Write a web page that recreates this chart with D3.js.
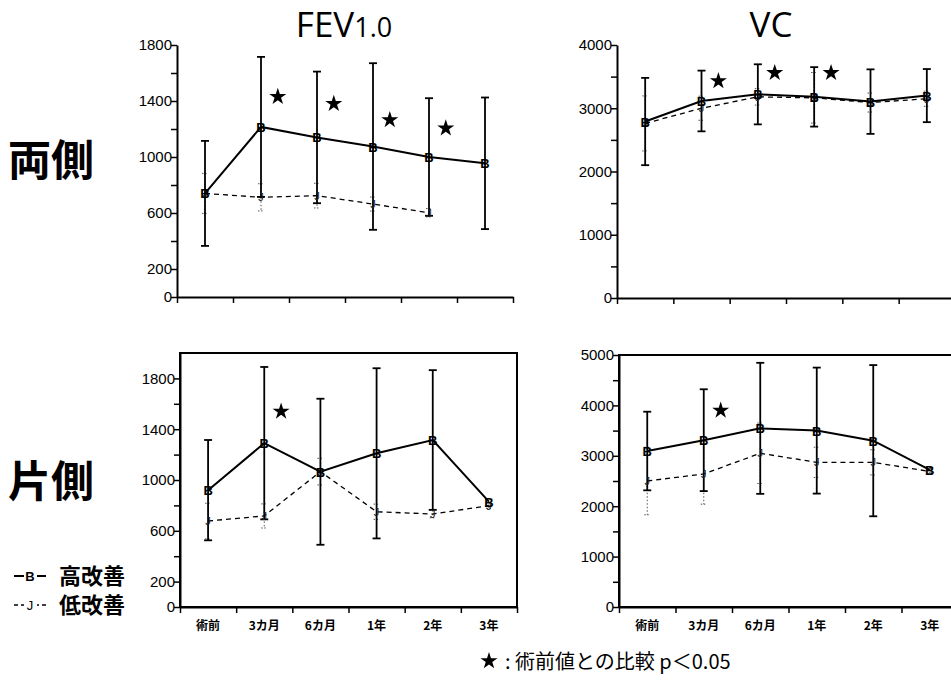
<!DOCTYPE html>
<html>
<head>
<meta charset="utf-8">
<script src="https://cdn.jsdelivr.net/npm/d3@7"></script>
<style>
  body { margin: 0; background: #fff; }
  svg { display: block; }
</style>
</head>
<body>
<svg width="951" height="681"></svg>
<script>
// Data
const categories = ['術前', '3カ月', '6カ月', '1年', '2年', '3年'];

// FEV1.0 両側
const fevBothHigh = [740, 1215, 1140, 1075, 1000, 955];
const fevBothHighSd = [375, 500, 470, 595, 420, 470];
const fevBothLow = [740, 712, 724, 664, 602, null];
const fevBothLowSd = [143, 97, 88, 50, 30, null];
const fevBothStars = [['3カ月', 1430], ['6カ月', 1380], ['1年', 1265], ['2年', 1205]];

// VC 両側
const vcBothHigh = [2790, 3115, 3220, 3180, 3105, 3200];
const vcBothHighSd = [690, 480, 475, 470, 510, 420];
const vcBothLow = [2760, 3000, 3180, 3165, 3090, 3150];
const vcBothLowSd = [435, 190, 130, 400, 150, 120];
const vcBothStars = [['3カ月', 3430], ['6カ月', 3560], ['1年', 3560]];

// FEV1.0 片側
const fevOneHigh = [920, 1290, 1065, 1210, 1315, 830];
const fevOneHighSd = [395, 600, 575, 670, 550, 0];
const fevOneLow = [677, 717, 1066, 750, 732, 798];
const fevOneLowSd = [140, 95, 105, 60, 30, 20];
const fevOneStars = [['3カ月', 1540]];

// VC 片側
const vcOneHigh = [3095, 3310, 3545, 3500, 3300, 2720];
const vcOneHighSd = [780, 1010, 1300, 1250, 1500, 0];
const vcOneLow = [2500, 2640, 3050, 2870, 2870, 2690];
const vcOneLowSd = [670, 600, 600, 300, 250, 60];
const vcOneStars = [['3カ月', 3900]];

const fevTicks = [0, 200, 400, 600, 800, 1000, 1200, 1400, 1600, 1800];
const fevTickLabels = [0, 200, 600, 1000, 1400, 1800];
const vcTicks = [0, 500, 1000, 1500, 2000, 2500, 3000, 3500, 4000, 4500, 5000];
const vcTickLabels = [0, 1000, 2000, 3000, 4000, 5000];

// Setup
const svg = d3.select('svg');
const jp = '"Noto Sans CJK JP", "Noto Sans", sans-serif';
const num = '"Liberation Sans", Arial, sans-serif';
const star = d3.symbol().type(d3.symbolStar).size(90);

const panels = [
    { x0: 177, x1: 513, yb: 297, yt: 45, max: 1800, box: false, xlabels: false,
      ticks: fevTicks, labels: fevTickLabels,
      high: fevBothHigh, highSd: fevBothHighSd, low: fevBothLow, lowSd: fevBothLowSd, stars: fevBothStars },
    { x0: 617, x1: 955, yb: 298, yt: 45, max: 4000, box: false, xlabels: false,
      ticks: vcTicks.filter(t => t <= 4000), labels: vcTickLabels,
      high: vcBothHigh, highSd: vcBothHighSd, low: vcBothLow, lowSd: vcBothLowSd, stars: vcBothStars },
    { x0: 180, x1: 517, yb: 607, yt: 353, max: 2000, box: true, xlabels: true,
      ticks: fevTicks, labels: fevTickLabels,
      high: fevOneHigh, highSd: fevOneHighSd, low: fevOneLow, lowSd: fevOneLowSd, stars: fevOneStars },
    { x0: 619, x1: 958, yb: 607, yt: 355, max: 5000, box: true, xlabels: true,
      ticks: vcTicks, labels: vcTickLabels,
      high: vcOneHigh, highSd: vcOneHighSd, low: vcOneLow, lowSd: vcOneLowSd, stars: vcOneStars }
];

const drawPanel = p => {
    const g = svg.append('g');
    const x = d3.scaleBand().domain(categories).range([p.x0, p.x1]);
    const cx = c => x(c) + x.bandwidth() / 2;
    const y = d3.scaleLinear().domain([0, p.max]).range([p.yb, p.yt]);
    const edge = d3.scaleLinear().domain([0, categories.length]).range([p.x0, p.x1]);

    if (p.box) {
        g.append('rect')
            .attr('x', p.x0).attr('y', p.yt)
            .attr('width', p.x1 - p.x0).attr('height', p.yb - p.yt)
            .attr('fill', 'none').attr('stroke', '#000').attr('stroke-width', 2);
    }

    // y axis
    const yAxis = g.append('g')
        .attr('transform', `translate(${p.x0},0)`)
        .call(d3.axisLeft(y).tickValues(p.ticks).tickSize(6).tickSizeOuter(0)
            .tickFormat(d => p.labels.includes(d) ? d : ''));
    yAxis.select('.domain').attr('stroke-width', 2);
    yAxis.selectAll('line').attr('stroke-width', 1.5);
    yAxis.selectAll('text').attr('font-family', num).attr('font-size', 15).attr('fill', '#000').attr('x', -5);

    // x axis (ticks at band edges)
    const xAxis = g.append('g')
        .attr('transform', `translate(0,${p.yb})`)
        .call(d3.axisBottom(edge).tickValues(d3.range(categories.length + 1)).tickSize(6).tickSizeOuter(0).tickFormat(''));
    xAxis.select('.domain').attr('stroke-width', 2);
    xAxis.selectAll('line').attr('stroke-width', 1.5);

    if (p.xlabels) {
        const lab = g.append('g')
            .attr('transform', `translate(0,${p.yb + 11})`)
            .call(d3.axisBottom(x).tickSize(0));
        lab.select('.domain').remove();
        lab.selectAll('text').attr('font-family', jp).attr('font-size', 12)
            .attr('font-weight', 'bold').attr('fill', '#000');
    }

    // error bars low series (dotted)
    categories.forEach((c, i) => {
        if (p.low[i] == null || !p.lowSd[i]) return;
        const top = y(p.low[i] + p.lowSd[i]), bot = y(p.low[i] - p.lowSd[i]);
        g.append('line').attr('x1', cx(c)).attr('x2', cx(c)).attr('y1', top).attr('y2', bot)
            .attr('stroke', '#555').attr('stroke-width', 1).attr('stroke-dasharray', '1.5,2');
        [top, bot].forEach(v => g.append('line')
            .attr('x1', cx(c) - 3).attr('x2', cx(c) + 3).attr('y1', v).attr('y2', v)
            .attr('stroke', '#555').attr('stroke-width', 1).attr('stroke-dasharray', '1.5,1.5'));
    });

    // error bars high series
    categories.forEach((c, i) => {
        if (!p.highSd[i]) return;
        const top = y(p.high[i] + p.highSd[i]), bot = y(p.high[i] - p.highSd[i]);
        g.append('line').attr('x1', cx(c)).attr('x2', cx(c)).attr('y1', top).attr('y2', bot)
            .attr('stroke', '#000').attr('stroke-width', 1.8);
        [top, bot].forEach(v => g.append('line')
            .attr('x1', cx(c) - 4).attr('x2', cx(c) + 4).attr('y1', v).attr('y2', v)
            .attr('stroke', '#000').attr('stroke-width', 1.8));
    });

    // lines
    const line = d3.line().defined(d => d[1] != null).x(d => cx(d[0])).y(d => y(d[1]));
    g.append('path')
        .datum(categories.map((c, i) => [c, p.low[i]]))
        .attr('d', line).attr('fill', 'none').attr('stroke', '#000')
        .attr('stroke-width', 1.3).attr('stroke-dasharray', '5,4');
    g.append('path')
        .datum(categories.map((c, i) => [c, p.high[i]]))
        .attr('d', line).attr('fill', 'none').attr('stroke', '#000').attr('stroke-width', 2);

    // markers
    g.selectAll('.mlow')
        .data(categories.map((c, i) => [c, p.low[i]]).filter(d => d[1] != null))
        .enter().append('text')
        .attr('x', d => cx(d[0])).attr('y', d => y(d[1]) + 4)
        .attr('text-anchor', 'middle').attr('font-family', num).attr('font-size', 11)
        .attr('fill', '#222').text('J');
    g.selectAll('.mhigh')
        .data(categories.map((c, i) => [c, p.high[i]]))
        .enter().append('text')
        .attr('x', d => cx(d[0])).attr('y', d => y(d[1]) + 5)
        .attr('text-anchor', 'middle').attr('font-family', num).attr('font-size', 13)
        .attr('font-weight', 'bold').attr('fill', '#000').text('B');

    // significance stars
    g.selectAll('.star')
        .data(p.stars)
        .enter().append('path')
        .attr('d', star)
        .attr('transform', d => `translate(${cx(d[0]) + x.bandwidth() * 0.3},${y(d[1])})`)
        .attr('fill', '#000');
};

panels.forEach(drawPanel);

// Titles
const t1 = svg.append('text')
    .attr('x', 344).attr('y', 37)
    .attr('text-anchor', 'middle')
    .attr('font-family', '"Open Sans", "Noto Sans", sans-serif')
    .attr('font-size', 35).attr('fill', '#000');
t1.append('tspan').text('FEV');
t1.append('tspan').attr('font-size', 27).text('1.0');

svg.append('text')
    .attr('x', 771).attr('y', 37)
    .attr('text-anchor', 'middle')
    .attr('font-family', '"Open Sans", "Noto Sans", sans-serif')
    .attr('font-size', 35).attr('fill', '#000')
    .text('VC');

// Row labels
svg.append('text')
    .attr('x', 8).attr('y', 176)
    .attr('font-family', jp).attr('font-size', 43).attr('font-weight', 'bold')
    .text('両側');
svg.append('text')
    .attr('x', 8).attr('y', 497)
    .attr('font-family', jp).attr('font-size', 43).attr('font-weight', 'bold')
    .text('片側');

// Legend
const legend = svg.append('g');
const legendRows = [
    { label: '高改善', mark: 'B', dash: null, y: 576 },
    { label: '低改善', mark: 'J', dash: '4,3', y: 605 }
];
legendRows.forEach(d => {
    legend.append('line')
        .attr('x1', 14).attr('x2', 46).attr('y1', d.y).attr('y2', d.y)
        .attr('stroke', '#000').attr('stroke-width', d.dash ? 1.3 : 2)
        .attr('stroke-dasharray', d.dash);
    legend.append('rect')
        .attr('x', 24).attr('y', d.y - 7).attr('width', 13).attr('height', 14).attr('fill', '#fff');
    legend.append('text')
        .attr('x', 30).attr('y', d.y + 5)
        .attr('text-anchor', 'middle').attr('font-family', num)
        .attr('font-size', 13).attr('font-weight', d.dash ? 'normal' : 'bold')
        .text(d.mark);
    legend.append('text')
        .attr('x', 59).attr('y', d.y + 8)
        .attr('font-family', jp).attr('font-size', 22).attr('font-weight', 'bold')
        .text(d.label);
});

// Footnote
svg.append('path')
    .attr('d', star)
    .attr('transform', 'translate(489,661)')
    .attr('fill', '#000');
svg.append('text')
    .attr('x', 505).attr('y', 669)
    .attr('font-family', jp).attr('font-size', 20)
    .text(': 術前値との比較 p＜0.05');
</script>
</body>
</html>
